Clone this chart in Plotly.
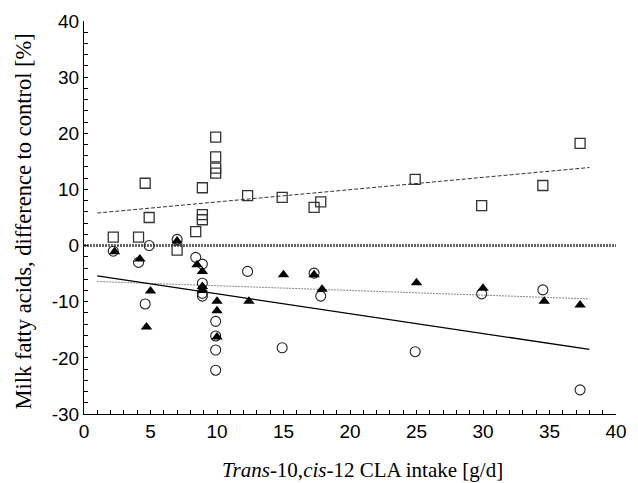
import plotly.graph_objects as go

# Squares
sq_x = [2.2, 4.1, 4.6, 4.9, 7.0, 8.4, 8.9, 8.9, 8.9, 9.9, 9.9, 9.9, 9.9, 12.3, 14.9, 17.3, 17.8, 24.9, 29.9, 34.5, 37.3]
sq_y = [1.5, 1.5, 11.1, 5.0, -0.8, 2.5, 10.3, 5.5, 4.6, 19.3, 15.8, 13.8, 12.9, 8.9, 8.6, 6.8, 7.8, 11.8, 7.1, 10.7, 18.2]

# Circles
ci_x = [2.2, 4.1, 4.6, 4.9, 7.0, 8.4, 8.9, 8.9, 8.9, 8.9, 9.9, 9.9, 9.9, 9.9, 12.3, 14.9, 17.3, 17.8, 24.9, 29.9, 34.5, 37.3]
ci_y = [-1.0, -3.0, -10.4, 0.0, 1.1, -2.1, -3.3, -6.7, -8.5, -9.0, -13.5, -16.1, -18.6, -22.2, -4.6, -18.2, -4.9, -9.0, -18.9, -8.6, -7.9, -25.7]

# Triangles
tr_x = [2.3, 4.2, 4.7, 5.0, 7.0, 8.5, 8.9, 8.9, 8.9, 10.0, 10.0, 10.0, 12.4, 15.0, 17.3, 17.9, 25.0, 30.0, 34.6, 37.3]
tr_y = [-1.1, -2.4, -14.5, -8.1, 0.8, -3.4, -4.6, -7.3, -8.0, -9.9, -11.6, -16.3, -9.9, -5.2, -5.2, -7.8, -6.6, -7.6, -9.9, -10.6]

# Regression lines (endpoints)
fit_x = [1, 38]
sq_fit_y = [5.8, 13.9]
ci_fit_y = [-6.4, -9.5]
tr_fit_y = [-5.4, -18.5]

zero_x = [0, 40]
zero_y = [0, 0]

x_ticks = [0, 5, 10, 15, 20, 25, 30, 35, 40]
y_ticks = [-30, -20, -10, 0, 10, 20, 30, 40]

x_title = "<i>Trans</i>-10,<i>cis</i>-12 CLA intake [g/d]"
y_title = "Milk fatty acids, difference to control [%]"

fig = go.Figure()

fig.add_trace(go.Scatter(x=zero_x, y=zero_y, mode="lines",
                         line=dict(color="#666666", width=3, dash="2px,1px"), showlegend=False))
fig.add_trace(go.Scatter(x=fit_x, y=sq_fit_y, mode="lines",
                         line=dict(color="#333333", width=1, dash="4px,2px"), showlegend=False))
fig.add_trace(go.Scatter(x=fit_x, y=ci_fit_y, mode="lines",
                         line=dict(color="#888888", width=1, dash="2px,1px"), showlegend=False))
fig.add_trace(go.Scatter(x=fit_x, y=tr_fit_y, mode="lines",
                         line=dict(color="black", width=1.3), showlegend=False))

fig.add_trace(go.Scatter(x=sq_x, y=sq_y, mode="markers",
                         marker=dict(symbol="square-open", size=10, color="#333333", line=dict(width=1.3)),
                         showlegend=False))
fig.add_trace(go.Scatter(x=ci_x, y=ci_y, mode="markers",
                         marker=dict(symbol="circle-open", size=10, color="#222222", line=dict(width=1.1)),
                         showlegend=False))
fig.add_trace(go.Scatter(x=tr_x, y=tr_y, mode="markers",
                         marker=dict(symbol="triangle-up", size=10, color="black", line=dict(width=0)),
                         showlegend=False))

fig.update_layout(
    width=638, height=483,
    margin=dict(l=84, r=11, t=21, b=69),
    plot_bgcolor="white", paper_bgcolor="white",
    font=dict(family="Liberation Sans, Arial", size=18, color="black"),
    annotations=[
        dict(text=x_title, xref="paper", yref="paper", x=0.5, y=0, xshift=12, yshift=-56,
             xanchor="center", yanchor="middle", showarrow=False,
             font=dict(family="Liberation Serif, Times New Roman", size=21)),
        dict(text=y_title, xref="paper", yref="paper", x=0, y=0.5, yshift=-4, xshift=-61,
             xanchor="center", yanchor="middle", textangle=-90, showarrow=False,
             font=dict(family="Liberation Serif, Times New Roman", size=22.5)),
    ],
)

fig.update_xaxes(
    range=[0, 40], tickvals=x_ticks, ticktext=[str(v) for v in x_ticks],
    showgrid=False, zeroline=False, showline=True, linecolor="black", linewidth=1,
    ticks="inside", ticklen=4, tickcolor="black",
    minor=dict(dtick=1, ticks="inside", ticklen=4, tickcolor="black", showgrid=False),
    tickfont=dict(family="Liberation Sans, Arial", size=19),
)
fig.update_yaxes(
    range=[-30, 40], tickvals=y_ticks, ticktext=[str(v) for v in y_ticks],
    showgrid=False, zeroline=False, showline=True, linecolor="black", linewidth=1,
    ticks="inside", ticklen=4, tickcolor="black",
    minor=dict(dtick=2, ticks="inside", ticklen=4, tickcolor="black", showgrid=False),
    tickfont=dict(family="Liberation Sans, Arial", size=19),
)

fig.write_html("out.html")
